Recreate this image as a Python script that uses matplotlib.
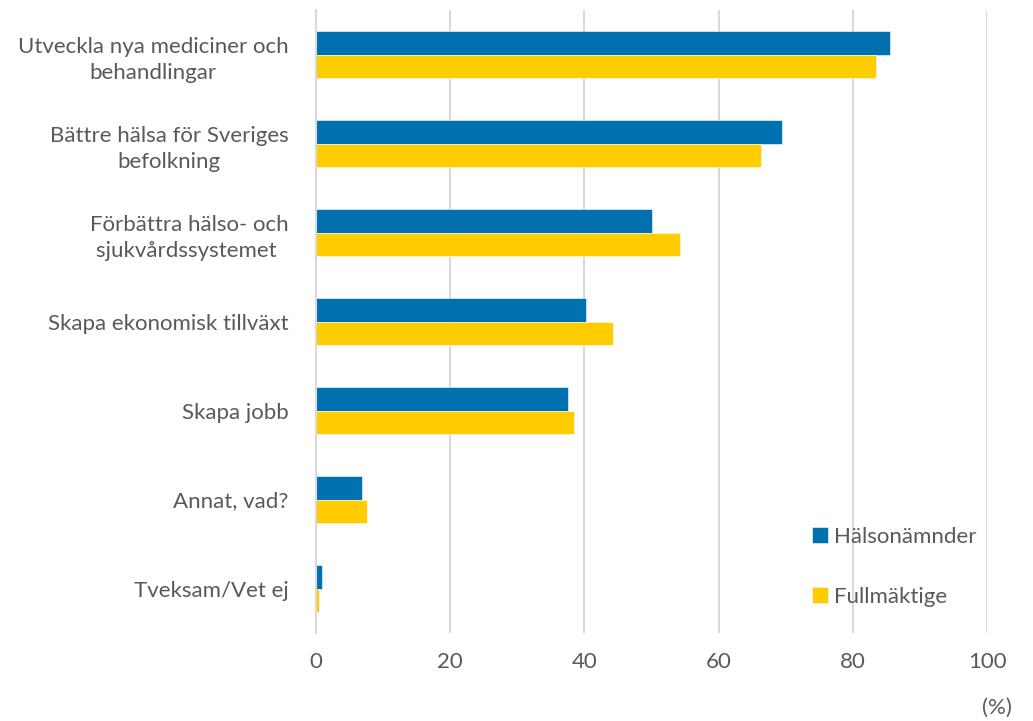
import numpy as np
import matplotlib.pyplot as plt

categories = ['Utveckla nya mediciner och\nbehandlingar',
              'Bättre hälsa för Sveriges\nbefolkning',
              'Förbättra hälso- och\nsjukvårdssystemet ',
              'Skapa ekonomisk tillväxt',
              'Skapa jobb',
              'Annat, vad?',
              'Tveksam/Vet ej']
halsonamnder = [85.5, 69.4, 50.0, 40.3, 37.6, 6.9, 0.9]
fullmaktige = [83.4, 66.3, 54.3, 44.2, 38.5, 7.6, 0.4]
xticks = [0, 20, 40, 60, 80, 100]

blue = '#0070AF'
yellow = '#FFCC00'
grey_text = '#595959'

plt.rcParams['font.family'] = ['Lato', 'DejaVu Sans']

fig = plt.figure(figsize=(10.33, 7.21), dpi=100)
ax = fig.add_axes([0.306, 0.122, 0.6495, 0.864])

y = np.arange(len(categories))
h = 0.26
ax.barh(y - h / 2, halsonamnder, height=h, color=blue, label='Hälsonämnder',
        edgecolor='white', linewidth=0.4)
ax.barh(y + h / 2, fullmaktige, height=h, color=yellow, label='Fullmäktige',
        edgecolor='white', linewidth=0.4)

ax.set_ylim(len(categories) - 0.5, -0.5)
ax.set_xlim(0, 100)
ax.set_xticks(xticks)
ax.set_xticklabels([str(t) for t in xticks], fontsize=16, color=grey_text)
ax.set_yticks(y)
ax.set_yticklabels(categories, fontsize=16, color=grey_text)
for lab in ax.get_yticklabels():
    lab.set_multialignment('center')
    lab.set_linespacing(1.4)

ax.tick_params(axis='both', length=0)
ax.tick_params(axis='y', pad=20)
ax.tick_params(axis='x', pad=14)
ax.xaxis.grid(True, color='#D9D9D9', linewidth=1.5)
ax.set_axisbelow(True)
for s in ['top', 'right', 'bottom']:
    ax.spines[s].set_visible(False)
ax.spines['left'].set_color('#D9D9D9')
ax.spines['left'].set_linewidth(1.5)

leg = ax.legend(loc='lower left', bbox_to_anchor=(0.71, 0.01), frameon=False,
                fontsize=16, handlelength=0.7, handleheight=0.7,
                handletextpad=0.25, labelspacing=1.8)
for t in leg.get_texts():
    t.set_color(grey_text)

fig.text(0.98, 0.004, '(%)', fontsize=16, color=grey_text, ha='right', va='bottom')

fig.savefig('out.png', dpi=100)
